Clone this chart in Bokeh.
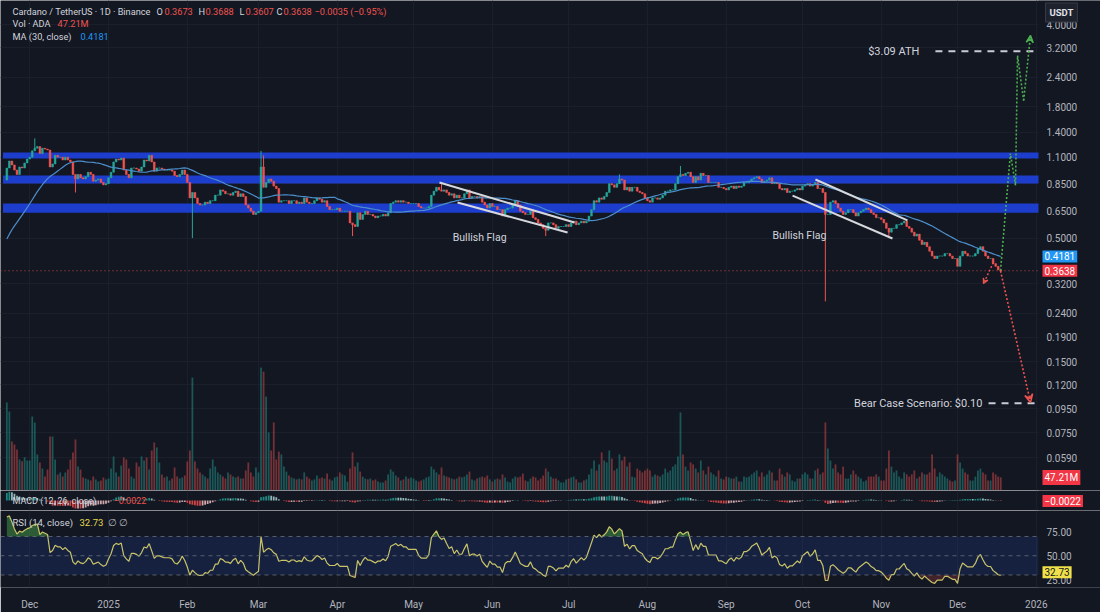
import numpy as np
import pandas as pd
from bokeh.plotting import figure
from bokeh.layouts import column
from bokeh.models import (Range1d, LinearScale, FixedTicker, Label, BoxAnnotation, Span,
                          ColumnDataSource, Arrow, VeeHead)
from bokeh.embed import file_html
from bokeh.resources import INLINE

# ---------------- data (daily closes, ADA/USDT) ----------------
first_day = "2024-10-23"
view_start = "2024-11-22"
c_2024_10 = [0.35, 0.35, 0.34, 0.34, 0.35, 0.35, 0.36, 0.35, 0.34]
c_2024_11 = [0.33, 0.32, 0.31, 0.32, 0.34, 0.37, 0.40, 0.42, 0.46, 0.57,
             0.59, 0.56, 0.57, 0.52, 0.55, 0.61, 0.72, 0.72, 0.76, 0.79,
             0.88, 0.99, 1.06, 1.02, 0.97, 0.93, 1.00, 0.99, 1.04, 1.08]
c_2024_12 = [1.10, 1.17, 1.20, 1.22, 1.14, 1.20, 1.19, 1.18, 1.00, 1.03,
             1.12, 1.10, 1.10, 1.07, 1.10, 1.07, 1.05, 0.93, 0.89, 0.93,
             0.90, 0.89, 0.91, 0.95, 0.93, 0.87, 0.88, 0.89, 0.86, 0.84, 0.85]
c_2025_01 = [0.90, 0.95, 1.05, 1.08, 1.07, 1.09, 0.97, 0.93, 0.90, 0.99,
             0.99, 0.98, 0.96, 1.00, 1.07, 1.06, 1.12, 1.05, 0.96, 0.99,
             0.99, 0.98, 0.97, 0.97, 0.97, 0.96, 0.92, 0.91, 0.93, 0.97, 0.93]
c_2025_02 = [0.86, 0.74, 0.78, 0.74, 0.70, 0.69, 0.69, 0.71, 0.70, 0.72,
             0.72, 0.76, 0.76, 0.80, 0.79, 0.77, 0.77, 0.76, 0.78, 0.79,
             0.75, 0.77, 0.75, 0.69, 0.67, 0.65, 0.63, 0.64]
c_2025_03 = [0.65, 1.00, 0.82, 0.86, 0.89, 0.87, 0.83, 0.81, 0.71, 0.72,
             0.72, 0.72, 0.70, 0.72, 0.72, 0.70, 0.71, 0.70, 0.74, 0.71,
             0.70, 0.70, 0.72, 0.74, 0.73, 0.71, 0.72, 0.68, 0.66, 0.66, 0.66]
c_2025_04 = [0.67, 0.65, 0.65, 0.65, 0.65, 0.58, 0.57, 0.56, 0.64, 0.60,
             0.63, 0.65, 0.63, 0.63, 0.62, 0.61, 0.62, 0.62, 0.63, 0.62,
             0.64, 0.70, 0.71, 0.72, 0.71, 0.72, 0.71, 0.71, 0.70, 0.70]
c_2025_05 = [0.70, 0.70, 0.68, 0.67, 0.67, 0.67, 0.68, 0.76, 0.79, 0.82,
             0.80, 0.79, 0.80, 0.78, 0.76, 0.77, 0.74, 0.76, 0.74, 0.74,
             0.77, 0.80, 0.74, 0.75, 0.75, 0.74, 0.75, 0.71, 0.69, 0.67, 0.70]
c_2025_06 = [0.68, 0.68, 0.66, 0.66, 0.62, 0.66, 0.67, 0.67, 0.69, 0.72,
             0.69, 0.65, 0.64, 0.63, 0.63, 0.65, 0.61, 0.60, 0.58, 0.57,
             0.55, 0.54, 0.58, 0.58, 0.57, 0.55, 0.56, 0.56, 0.56, 0.57]
c_2025_07 = [0.56, 0.58, 0.59, 0.57, 0.58, 0.59, 0.58, 0.59, 0.62, 0.66,
             0.72, 0.71, 0.74, 0.73, 0.75, 0.78, 0.85, 0.84, 0.82, 0.85,
             0.89, 0.88, 0.80, 0.82, 0.79, 0.82, 0.82, 0.79, 0.78, 0.77, 0.74]
c_2025_08 = [0.72, 0.71, 0.74, 0.74, 0.73, 0.74, 0.76, 0.79, 0.79, 0.80,
             0.80, 0.85, 0.91, 0.93, 0.92, 0.94, 0.95, 0.91, 0.86, 0.91,
             0.88, 0.94, 0.92, 0.92, 0.86, 0.86, 0.86, 0.86, 0.82, 0.82, 0.81]
c_2025_09 = [0.80, 0.82, 0.83, 0.81, 0.83, 0.82, 0.83, 0.86, 0.86, 0.87,
             0.89, 0.90, 0.91, 0.89, 0.86, 0.87, 0.88, 0.90, 0.85, 0.86,
             0.85, 0.81, 0.80, 0.81, 0.78, 0.79, 0.79, 0.80, 0.81, 0.80]
c_2025_10 = [0.83, 0.84, 0.85, 0.83, 0.84, 0.86, 0.81, 0.81, 0.78, 0.63,
             0.63, 0.71, 0.72, 0.70, 0.67, 0.65, 0.63, 0.64, 0.66, 0.66,
             0.64, 0.62, 0.64, 0.65, 0.66, 0.67, 0.66, 0.64, 0.63, 0.61, 0.61]
c_2025_11 = [0.60, 0.58, 0.55, 0.53, 0.55, 0.55, 0.57, 0.57, 0.58, 0.59,
             0.56, 0.55, 0.53, 0.51, 0.52, 0.49, 0.47, 0.48, 0.46, 0.44,
             0.42, 0.41, 0.42, 0.42, 0.42, 0.43, 0.43, 0.42, 0.41, 0.41]
c_2025_12 = [0.38, 0.42, 0.44, 0.43, 0.42, 0.42, 0.42, 0.43, 0.45, 0.46,
             0.44, 0.42, 0.41, 0.41, 0.39, 0.38, 0.3673, 0.3638]

# notable wicks: date -> (high, low)
wicks = {"2024-12-03": (1.32, None), "2024-12-19": (None, 0.78),
         "2025-02-03": (None, 0.50), "2025-03-02": (1.17, None),
         "2025-03-03": (1.12, None), "2025-04-07": (None, 0.51),
         "2025-05-12": (0.85, None), "2025-06-22": (None, 0.51),
         "2025-07-21": (0.93, None), "2025-08-14": (1.01, None),
         "2025-10-10": (None, 0.27), "2025-11-04": (None, 0.50),
         "2025-12-18": (0.3688, 0.3607)}

# daily volume, millions of ADA (visible period)
v_2024_11 = [317, 284, 176, 166, 148, 112, 105, 120, 108]
v_2024_12 = [108, 266, 245, 130, 101, 79, 50, 76, 194, 194, 112, 58, 65, 50, 65, 76,
             112, 137, 184, 86, 76, 47, 43, 40, 36, 50, 40, 32, 36, 47, 40]
v_2025_01 = [43, 79, 122, 65, 50, 90, 119, 112, 79, 50, 43, 101, 86, 122, 108, 119,
             76, 144, 173, 155, 101, 58, 47, 50, 36, 43, 83, 50, 43, 47, 54]
v_2025_02 = [104, 144, 407, 104, 79, 65, 58, 50, 43, 79, 112, 86, 65, 58, 50, 43,
             65, 58, 50, 47, 50, 43, 43, 72, 101, 65, 50, 83]
v_2025_03 = [65, 443, 428, 338, 209, 144, 245, 112, 140, 130, 86, 68, 54, 47, 43, 40,
             43, 40, 65, 50, 43, 36, 40, 54, 43, 47, 43, 61, 40, 36, 47]
v_2025_04 = [50, 65, 58, 54, 32, 79, 137, 86, 101, 68, 50, 43, 40, 43, 36, 40,
             32, 29, 29, 36, 58, 76, 68, 54, 47, 36, 40, 50, 43, 47]
v_2025_05 = [43, 36, 32, 36, 40, 47, 50, 86, 76, 65, 58, 83, 54, 50, 47, 43,
             40, 43, 50, 47, 50, 58, 68, 40, 36, 43, 47, 50, 47, 54, 40]
v_2025_06 = [32, 40, 43, 40, 58, 47, 32, 29, 43, 50, 47, 50, 61, 36, 32, 43,
             50, 47, 36, 43, 54, 79, 68, 50, 43, 43, 36, 29, 29, 40]
v_2025_07 = [43, 47, 50, 40, 29, 29, 36, 40, 58, 79, 108, 72, 94, 137, 108, 101,
             144, 115, 72, 79, 130, 108, 122, 86, 101, 50, 47, 79, 72, 65, 72]
v_2025_08 = [79, 72, 50, 58, 54, 50, 58, 79, 65, 72, 86, 94, 122, 281, 130, 86,
             72, 101, 94, 79, 65, 108, 72, 58, 86, 65, 58, 50, 72, 43, 40]
v_2025_09 = [50, 47, 43, 43, 50, 32, 32, 50, 47, 50, 58, 65, 72, 50, 65, 50,
             58, 72, 65, 36, 36, 79, 58, 50, 65, 58, 36, 32, 43, 43]
v_2025_10 = [58, 65, 58, 43, 43, 72, 79, 58, 65, 245, 151, 108, 79, 94, 65, 58,
             86, 43, 43, 58, 72, 58, 50, 43, 32, 36, 50, 50, 50, 58, 50]
v_2025_11 = [36, 36, 79, 144, 86, 65, 72, 50, 43, 65, 58, 50, 58, 72, 43, 50,
             65, 58, 58, 65, 130, 79, 50, 65, 58, 50, 43, 36, 32, 36]
v_2025_12 = [130, 101, 79, 65, 58, 36, 36, 50, 72, 79, 65, 58, 36, 36, 65, 58, 50, 47.21]

# support / resistance zones (price bands)
zones = [(1.085, 1.151), (0.851, 0.920), (0.641, 0.700)]
price_ticks = [0.059, 0.075, 0.095, 0.12, 0.15, 0.19, 0.24, 0.32, 0.5, 0.65,
               0.85, 1.1, 1.4, 1.8, 2.4, 3.2, 4.0]
rsi_ticks = [25, 50, 75]
ath_price = 3.09
bear_price = 0.10
last_close = 0.3638
ma_last = 0.4181
rsi_last = 32.73
macd_last = -0.0022
vol_last = 47.21

# drawings (day offsets from 2025-01-01, prices)
flag1_upper = ([130.2, 183.3], [0.859, 0.582])
flag1_lower = ([137.3, 180.6], [0.707, 0.528])
flag2_upper = ([278.1, 314.3], [0.885, 0.594])
flag2_lower = ([269.1, 308.4], [0.757, 0.498])
bull_path = ([350.9, 354.8, 356.8, 357.6, 360.0, 362.7], [0.3638, 1.14, 0.835, 2.96, 1.91, 3.60])
bear_path = ([350.9, 362.7], [0.3638, 0.1009])
bear_small = ([348.1, 344.2], [0.3945, 0.321])

# ---------------- derived series ----------------
closes_all = np.array(c_2024_10 + c_2024_11 + c_2024_12 + c_2025_01 + c_2025_02 + c_2025_03
                      + c_2025_04 + c_2025_05 + c_2025_06 + c_2025_07 + c_2025_08
                      + c_2025_09 + c_2025_10 + c_2025_11 + c_2025_12)
dates_all = pd.date_range(first_day, periods=len(closes_all), freq="D")
origin = pd.Timestamp("2025-01-01")
day_all = np.asarray((dates_all - origin).days, dtype=float)
opens_all = np.r_[closes_all[0], closes_all[:-1]]
s = pd.Series(closes_all)
ma30_all = s.rolling(30).mean().to_numpy()
delta = s.diff().fillna(0)
ag = delta.clip(lower=0).ewm(alpha=1 / 14, adjust=False).mean()
al = (-delta).clip(lower=0).ewm(alpha=1 / 14, adjust=False).mean()
rsi_all = (100 - 100 / (1 + ag / al.replace(0, 1e-9))).to_numpy()
macd = s.ewm(span=12, adjust=False).mean() - s.ewm(span=26, adjust=False).mean()
signal = macd.ewm(span=9, adjust=False).mean()
hist_all = (macd - signal).to_numpy()

vis = dates_all >= pd.Timestamp(view_start)
x = day_all[vis]
o = opens_all[vis]
c = closes_all[vis]
hi = np.maximum(o, c)
lo = np.minimum(o, c)
vdates = dates_all[vis]
for k, (wh, wl) in wicks.items():
    i = int(np.where(vdates == pd.Timestamp(k))[0][0])
    if wh is not None:
        hi[i] = max(hi[i], wh)
    if wl is not None:
        lo[i] = min(lo[i], wl)
vol = np.array(v_2024_11 + v_2024_12 + v_2025_01 + v_2025_02 + v_2025_03 + v_2025_04
               + v_2025_05 + v_2025_06 + v_2025_07 + v_2025_08 + v_2025_09 + v_2025_10
               + v_2025_11 + v_2025_12, dtype=float)
assert len(vol) == len(x), (len(vol), len(x))

UP, DOWN = "#26a69a", "#ef5350"
col = np.where(c >= o, UP, DOWN)
src = ColumnDataSource(dict(x=x, top=np.maximum(o, c), bottom=np.minimum(o, c), hi=hi, lo=lo,
                            color=col, vol=vol))
ma_src = ColumnDataSource(dict(x=x, ma=ma30_all[vis]))
rsi = rsi_all[vis]
hist = hist_all[vis]
prev = np.r_[hist_all[np.argmax(vis) - 1], hist[:-1]]
hcol = np.where(hist >= 0, np.where(hist >= prev, "#26a69a", "#b2dfdb"),
                np.where(hist <= prev, "#ff5252", "#ffcdd2"))

months = pd.date_range("2024-12-01", "2026-01-01", freq="MS")
month_days = [int((m - origin).days) for m in months]
month_labels = {int((m - origin).days): (str(m.year) if m.month == 1 else m.strftime("%b"))
                for m in months}

# ---------------- styling ----------------
BG = "#131722"
GRID = "#1b1f2b"
TXT = "#b2b5be"
FONT = "Roboto"
W = 1100
AX_PX = 1038                 # where the price scale column begins
X0 = -42.49
PX_PER_DAY = 2.542
X_AXIS = X0 + AX_PX / PX_PER_DAY   # day at the price-scale boundary
X1 = X0 + W / PX_PER_DAY


def base(fig):
    fig.background_fill_color = BG
    fig.border_fill_color = BG
    fig.outline_line_color = None
    fig.xgrid.ticker = FixedTicker(ticks=month_days)
    fig.xgrid.grid_line_color = GRID
    fig.ygrid.grid_line_color = GRID


def cover(fig):
    # price-scale column on the right, drawn over the panes
    fig.add_layout(BoxAnnotation(left=X_AXIS, fill_color=BG, fill_alpha=1.0, line_color=None,
                                 level="annotation"))


def txt(fig, xx, yy, text, color=TXT, size="9.5px", xu="screen", yu="screen", align="left",
        **kw):
    fig.add_layout(Label(x=xx, y=yy, x_units=xu, y_units=yu, text=text, text_color=color,
                         text_font=FONT, text_font_size=size, text_align=align,
                         text_baseline="middle", **kw))


def scale_labels(fig, ticks, fmt):
    for t in ticks:
        txt(fig, AX_PX + 8, t, fmt % t, color=TXT, size="10px", yu="data")


def tag(fig, yy, text, bg, fg="#ffffff", **kw):
    fig.add_layout(Label(x=AX_PX + 4, y=yy, x_units="screen", text=text, text_color=fg,
                         text_font=FONT, text_font_size="10px", text_baseline="middle",
                         background_fill_color=bg, padding=2, **kw))


# ---------------- price pane ----------------
PH = 490
p = figure(width=W, height=PH, x_range=Range1d(X0, X1), y_range=Range1d(0.0428, 5.06),
           y_axis_type="log", y_axis_location=None, x_axis_location=None,
           toolbar_location=None, output_backend="svg",
           min_border_left=0, min_border_right=0, min_border_top=0, min_border_bottom=0)
base(p)
p.extra_y_ranges = {"vol": Range1d(0, 1764)}
p.extra_y_scales = {"vol": LinearScale()}
p.ygrid.ticker = FixedTicker(ticks=price_ticks)

for b, t in zones:
    p.add_layout(BoxAnnotation(bottom=b, top=t, left=-41.5, fill_color="#1e3fd6",
                               fill_alpha=0.95, line_color=None, level="underlay"))

p.vbar(x="x", width=0.7, top="vol", bottom=0, y_range_name="vol", fill_color="color",
       fill_alpha=0.45, line_color=None, source=src)
p.segment(x0="x", y0="hi", x1="x", y1="lo", line_color="color", line_width=1, source=src)
p.vbar(x="x", width=0.7, top="top", bottom="bottom", fill_color="color", line_color="color",
       line_width=0.5, source=src)
p.line(x="x", y="ma", line_color="#4d8fcb", line_width=1.2, source=ma_src)

p.add_layout(Span(location=last_close, dimension="width", line_color="#ef5350",
                  line_dash="1 3", line_width=1, line_alpha=0.8))

for xs, ys in (flag1_upper, flag1_lower, flag2_upper, flag2_lower):
    p.line(xs, ys, line_color="#d6d8de", line_width=2)
txt(p, 146.0, 0.503, "Bullish Flag", color="#d1d4dc", size="10.5px", xu="data", yu="data",
    align="center")
txt(p, 271.8, 0.513, "Bullish Flag", color="#d1d4dc", size="10.5px", xu="data", yu="data",
    align="center")

# ATH / bear levels
p.line([325.3, X_AXIS], [ath_price, ath_price], line_color="#c9ccd4", line_width=2,
       line_dash="7 6")
p.line([346.2, X_AXIS], [bear_price, bear_price], line_color="#c9ccd4", line_width=2,
       line_dash="7 6")
txt(p, 319.0, ath_price, "$3.09 ATH", color="#d1d4dc", size="11px", xu="data", yu="data",
    align="right")
txt(p, 343.8, bear_price, "Bear Case Scenario: $0.10", color="#d1d4dc", size="11px",
    xu="data", yu="data", align="right")

# projections
bx, by = bull_path
p.line(bx[:-1], by[:-1], line_color="#4caf50", line_width=1.6, line_dash="2 2")
p.add_layout(Arrow(end=VeeHead(size=7, line_color="#4caf50", line_width=1.5, fill_alpha=0),
                   x_start=bx[-2], y_start=by[-2], x_end=bx[-1], y_end=by[-1],
                   line_color="#4caf50", line_width=1.6, line_dash="2 2"))
rx, ry = bear_path
p.add_layout(Arrow(end=VeeHead(size=8, line_color="#ef5350", line_width=1.5, fill_alpha=0),
                   x_start=rx[0], y_start=ry[0], x_end=rx[1], y_end=ry[1],
                   line_color="#ef5350", line_width=1.6, line_dash="2 2"))
p.add_layout(Arrow(end=VeeHead(size=5, line_color="#ef5350", line_width=1.2, fill_alpha=0),
                   x_start=bear_small[0][0], y_start=bear_small[1][0],
                   x_end=bear_small[0][1], y_end=bear_small[1][1],
                   line_color="#ef5350", line_width=1.4, line_dash="2 2"))

# header
hy = PH - 11
HS = "9.2px"
txt(p, 12, hy, "Cardano / TetherUS · 1D · Binance", color="#d1d4dc", size=HS)
for xx, t, colr in [(156, "O", "#d1d4dc"), (164, "0.3673", "#ef5350"), (198, "H", "#d1d4dc"),
                    (205, "0.3688", "#ef5350"), (239, "L", "#d1d4dc"),
                    (245, "0.3607", "#ef5350"), (276, "C", "#d1d4dc"),
                    (283, "0.3638", "#ef5350"), (314, "−0.0035 (−0.95%)", "#ef5350")]:
    txt(p, xx, hy, t, color=colr, size=HS)
txt(p, 12, PH - 23, "Vol · ADA", color="#d1d4dc", size=HS)
txt(p, 57, PH - 23, "47.21M", color="#ef5350", size=HS)
txt(p, 12, PH - 36, "MA (30, close)", color="#d1d4dc", size=HS)
txt(p, 80, PH - 36, "0.4181", color="#2196f3", size=HS)

# price scale
cover(p)
scale_labels(p, price_ticks, "%.4f")
tag(p, ma_last, "0.4181", "#2196f3")
tag(p, last_close, "0.3638", "#f23645")
tag(p, vol_last, "47.21M", "#f23645", y_range_name="vol")
p.add_layout(Label(x=AX_PX + 7, y=PH - 12, x_units="screen", y_units="screen", text="USDT",
                   text_color="#e0e3eb", text_font=FONT, text_font_size="9.5px",
                   text_font_style="bold", text_baseline="middle",
                   background_fill_color="#1e222d", border_line_color="#363a45", padding=4))

# ---------------- MACD pane ----------------
mr = float(np.nanmax(np.abs(hist))) * 1.15
m = figure(width=W, height=20, x_range=p.x_range, y_range=Range1d(-mr, mr),
           x_axis_location=None, y_axis_location=None, toolbar_location=None,
           output_backend="svg", min_border_left=0, min_border_right=0, min_border_top=0,
           min_border_bottom=0)
base(m)
m.ygrid.grid_line_color = None
m.vbar(x=x, width=0.7, top=hist, bottom=0, fill_color=hcol, line_color=None, fill_alpha=0.8)
txt(m, 12, 0.0, "MACD (12, 26, close)", color="#d1d4dc", yu="data", size="9px")
txt(m, 113, 0.0, "−0.0022", color="#ef5350", yu="data", size="9px")
cover(m)
tag(m, macd_last, "−0.0022", "#f23645")

# ---------------- RSI pane ----------------
r = figure(width=W, height=102, x_range=p.x_range, y_range=Range1d(17, 97),
           y_axis_location=None, toolbar_location=None, output_backend="svg",
           min_border_left=0, min_border_right=0, min_border_top=0, min_border_bottom=22)
base(r)
r.ygrid.grid_line_color = None
r.xaxis.ticker = FixedTicker(ticks=month_days)
r.xaxis.major_label_overrides = month_labels
r.xaxis.axis_line_color = None
r.xaxis.major_tick_line_color = None
r.xaxis.minor_tick_line_color = None
r.xaxis.major_label_text_color = TXT
r.xaxis.major_label_text_font = FONT
r.xaxis.major_label_text_font_size = "10px"
r.xaxis.major_label_standoff = 5
r.add_layout(BoxAnnotation(bottom=30, top=70, fill_color="#2962ff", fill_alpha=0.13,
                           line_color=None, level="underlay"))
for lvl in (70, 50, 30):
    r.add_layout(Span(location=lvl, dimension="width", line_color="#787b86",
                      line_dash="4 4", line_width=1, line_alpha=0.7))
r.varea(x=x, y1=70, y2=np.maximum(rsi, 70), fill_color="#4caf50", fill_alpha=0.45)
r.varea(x=x, y1=np.minimum(rsi, 30), y2=30, fill_color="#ef5350", fill_alpha=0.22)
r.line(x=x, y=rsi, line_color="#c9c46a", line_width=1.2)
txt(r, 12, 85, "RSI (14, close)", color="#d1d4dc", yu="data")
txt(r, 79, 85, "32.73", color="#e6d84e", yu="data")
txt(r, 107, 85, "∅  ∅", color="#b2b5be", yu="data")
cover(r)
scale_labels(r, rsi_ticks, "%.2f")
tag(r, rsi_last, "32.73", "#f0e14a", fg="#131722")

layout = column(p, m, r)
open("out.html", "w").write(file_html(layout, INLINE))
